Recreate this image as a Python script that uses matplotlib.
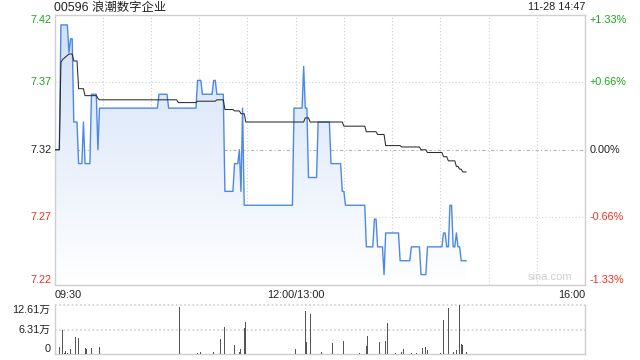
import numpy as np
import matplotlib
matplotlib.use("Agg")
import matplotlib.pyplot as plt
from matplotlib.patches import Polygon
from matplotlib.colors import LinearSegmentedColormap

# ---------------- data ----------------
title = "00596 浪潮数字企业"
stamp = "11-28 14:47"
prev_close = 7.32
pct_max = 0.0133

# price per minute, as (level, number of minutes)
price_levels = [7.32, 7.41, 7.39, 7.40, 7.34, 7.31, 7.34, 7.31, 7.36, 7.32,
                7.35, 7.36, 7.35, 7.37, 7.36, 7.37, 7.36, 7.29, 7.31, 7.32,
                7.29, 7.35, 7.28, 7.35, 7.38, 7.35, 7.30, 7.34, 7.31, 7.29,
                7.28, 7.25, 7.27, 7.25, 7.23, 7.26, 7.24, 7.25, 7.23, 7.25,
                7.26, 7.25, 7.28, 7.25, 7.26, 7.25, 7.24]
price_runs = [4, 5, 1, 2, 3, 3, 1, 4, 4, 1,
              37, 6, 18, 3, 7, 2, 5, 6, 3, 1,
              1, 1, 31, 6, 1, 2, 6, 8, 7, 2,
              13, 5, 2, 4, 1, 9, 7, 6, 4, 10,
              2, 2, 2, 2, 1, 2, 4]

# average price line, as (level, number of minutes)
avg_levels = [7.320, 7.383, 7.385, 7.386, 7.387, 7.388, 7.389, 7.384, 7.364, 7.359,
              7.357, 7.356, 7.354, 7.355, 7.356, 7.349, 7.348, 7.346, 7.340, 7.343,
              7.340, 7.337, 7.333, 7.331, 7.323, 7.322, 7.320, 7.318, 7.315, 7.312,
              7.308, 7.306, 7.304]
avg_runs = [4, 1, 1, 1, 1, 1, 3, 3, 4, 8,
            1, 49, 12, 12, 5, 6, 4, 3, 37, 3,
            21, 14, 7, 5, 10, 12, 4, 10, 3, 5,
            2, 2, 3]

# volume bars (minute index, volume in 万)
vol_minutes = [3, 5, 6, 7, 8, 10, 13, 15, 19, 20, 23, 28, 65, 78,
               89, 91, 93, 99, 103, 106, 112, 115, 116, 118, 119, 121, 150,
               156, 157, 159, 166, 173, 180, 190, 194, 195, 202, 206, 207,
               212, 216, 217, 222, 225, 229, 231, 232, 240, 242, 245, 248,
               250, 252, 253, 254, 256]
vol_values = [1.9, 6.2, 0.4, 0.85, 0.4, 1.4, 4.4, 4.2, 1.6, 1.4, 1.6, 1.9, 5.8, 12.2,
              0.25, 0.6, 0.6, 0.6, 3.9, 7.0, 2.4, 0.6, 1.4, 6.6, 8.3, 1.4, 1.4,
              11.1, 3.2, 10.3, 0.6, 2.9, 3.4, 0.4, 2.1, 4.7, 3.2, 3.4, 8.0,
              0.4, 0.6, 1.4, 0.4, 0.4, 1.6, 1.9, 1.1, 0.4, 8.8, 11.8, 0.6,
              1.1, 12.61, 2.6, 2.4, 0.6]
vol_max = 12.61

price_tick_labels = ["7.42", "7.37", "7.32", "7.27", "7.22"]
pct_tick_labels = ["+1.33%", "+0.66%", "0.00%", "-0.66%", "-1.33%"]
vol_tick_labels = ["12.61万", "6.31万", "0"]
x_labels = ["09:30", "12:00/13:00", "16:00"]
total_minutes = 330

# ---------------- derived ----------------
price = np.repeat(price_levels, price_runs)
avg = np.repeat(avg_levels, avg_runs)
t = np.arange(len(price))
y_lo = prev_close * (1 - pct_max)
y_hi = prev_close * (1 + pct_max)
mid_up = (prev_close + y_hi) / 2
mid_dn = (prev_close + y_lo) / 2

GREEN = "#1fa51f"
RED = "#f0321e"
GRID = "#cfcfcf"
FONT = ["Liberation Sans", "Noto Sans CJK SC", "DejaVu Sans"]
plt.rcParams["font.family"] = FONT

fig = plt.figure(figsize=(6.4, 3.6), dpi=100)
fig.patch.set_facecolor("white")

W, H = 640.0, 360.0
L, R = 54.5, 585.0
ax = fig.add_axes([L / W, 1 - 284.8 / H, (R - L) / W, (284.8 - 14.7) / H])
axv = fig.add_axes([L / W, 1 - 354.3 / H, (R - L) / W, (354.3 - 305.0) / H])

# ---- main chart ----
ax.set_xlim(0, total_minutes)
ax.set_ylim(y_lo, y_hi)
for s in ax.spines.values():
    s.set_color(GRID)
    s.set_linewidth(1.0)
ax.set_xticks([])
ax.set_yticks([])

for m in range(30, total_minutes, 30):
    ax.axvline(m, color=GRID, lw=0.8, ls=(0, (1, 2)), zorder=1)
for yv in (mid_up, mid_dn):
    ax.axhline(yv, color=GRID, lw=0.8, ls=(0, (1, 2)), zorder=1)
ax.axhline(prev_close, color="#b5b5b5", lw=0.8, ls=(0, (3, 2, 1, 2)), zorder=1)

# gradient fill under price line
cmap = LinearSegmentedColormap.from_list("g", ["#ffffff", "#d0e0f8"])
grad = np.linspace(0, 1, 256).reshape(-1, 1)
img = ax.imshow(grad, extent=[0, total_minutes, y_lo, y_hi], origin="lower",
                aspect="auto", cmap=cmap, zorder=2, interpolation="bilinear")
verts = np.column_stack([np.r_[t, t[::-1]], np.r_[price, np.full(len(t), y_lo)]])
poly = Polygon(verts, closed=True, facecolor="none", edgecolor="none")
ax.add_patch(poly)
img.set_clip_path(poly)

ax.plot(t, price, color="#4d88e6", lw=1.0, zorder=4)
ax.plot(t, avg, color="#2b2b2b", lw=0.75, zorder=5)

# y labels left / right
fs = 7.8
lab_y = [y_hi, mid_up, prev_close, mid_dn, y_lo]
lab_c = [GREEN, GREEN, "#222222", RED, RED]
lab_va = ["top", "center", "center", "center", "bottom"]
for yv, c, va, lt, rt in zip(lab_y, lab_c, lab_va, price_tick_labels, pct_tick_labels):
    ax.text(-0.006, yv, lt, transform=ax.get_yaxis_transform(),
            ha="right", va=va, color=c, fontsize=fs)
    ax.text(1.008, yv, rt, transform=ax.get_yaxis_transform(),
            ha="left", va=va, color=c, fontsize=fs)

# x labels
ax.text(0, -0.02, x_labels[0], transform=ax.get_xaxis_transform(),
        ha="left", va="top", fontsize=fs, color="#222222")
ax.text(150, -0.02, x_labels[1], transform=ax.get_xaxis_transform(),
        ha="center", va="top", fontsize=fs, color="#222222")
ax.text(total_minutes, -0.02, x_labels[2], transform=ax.get_xaxis_transform(),
        ha="right", va="top", fontsize=fs, color="#222222")

ax.text(0.977, 0.012, "sina.com", transform=ax.transAxes, ha="right", va="bottom",
        fontsize=8, color="#d0d0d0", zorder=6)

# ---- volume chart ----
axv.set_xlim(0, total_minutes)
axv.set_ylim(0, vol_max)
axv.set_xticks([])
axv.set_yticks([])
for k in ("left", "right", "bottom"):
    axv.spines[k].set_color(GRID)
    axv.spines[k].set_linewidth(1.0)
axv.spines["top"].set_visible(False)
axv.axhline(vol_max, color=GRID, lw=1.2, ls=(0, (1, 1.5)), zorder=1, clip_on=False)
axv.axhline(vol_max / 2, color=GRID, lw=1.2, ls=(0, (1, 1.5)), zorder=1)
axv.bar(vol_minutes, vol_values, width=0.6, color="#555555", zorder=3)

for yv, txt, va in zip([vol_max, vol_max / 2, 0], vol_tick_labels, ["top", "center", "bottom"]):
    axv.text(-0.008, yv, txt, transform=axv.get_yaxis_transform(), ha="right",
             va=va, fontsize=fs, color="#222222")

# ---- header ----
fig.text(L / W, 1 - 7.5 / H, title, ha="left", va="center", fontsize=8.9,
         color="#222222")
fig.text(R / W, 1 - 7.5 / H, stamp, ha="right", va="center", fontsize=fs,
         color="#222222")

fig.savefig("out.png", dpi=100, facecolor="white")
